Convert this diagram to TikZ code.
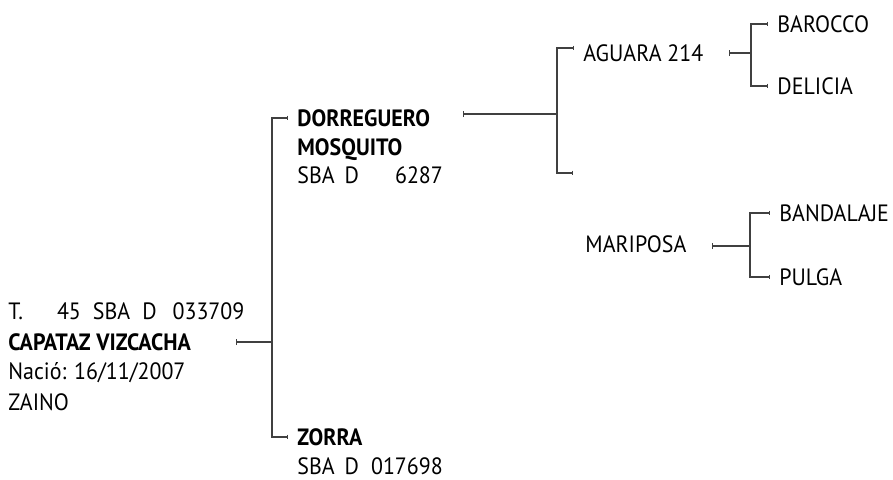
\documentclass[tikz,border=0pt]{standalone}
\usepackage{fontspec}
\setmainfont{PT Sans}[FakeStretch=0.93]
\usetikzlibrary{arrows.meta}

\tikzset{
  horse/.style={anchor=west, inner xsep=0pt, inner ysep=1pt,
                text height=8.4pt, text depth=0pt, font=\fontsize{11.8}{14}\selectfont},
  horsename/.style={horse, font=\fontsize{11.8}{14}\selectfont\bfseries},
  link/.style={black!75, line width=0.7pt},
  tipr/.style={link, -{Bar[width=2.4pt,line width=0.7pt]}, shorten >=4.5pt},
  tipl/.style={link, {Bar[width=3pt,line width=0.7pt]}-},
}

\begin{document}
\begin{tikzpicture}[x=0.5pt,y=-0.5pt]
  \useasboundingbox (0,0) rectangle (893,479);
  % the horse itself
  \node[horse]     (reg)     at (8,311) {T.\hspace{17pt}45\hspace{6pt}SBA\hspace{6pt}D\hspace{8pt}033709};
  \node[horsename] (capataz) at (8,342) {CAPATAZ VIZCACHA};
  \node[horse]     (nacio)   at (8,371) {Nació: 16/11/2007};
  \node[horse]     (pelo)    at (8,402) {ZAINO};
  % parents
  \node[horsename] (dorreguero) at (297,118) {DORREGUERO};
  \node[horsename] (mosquito)   at (297,147) {MOSQUITO};
  \node[horse]     (regp)       at (297,175) {SBA\hspace{5pt}D\hspace{18pt}6287};
  \node[horsename] (zorra)      at (297,437) {ZORRA};
  \node[horse]     (regm)       at (297,466) {SBA\hspace{5pt}D\hspace{6pt}017698};
  % grandparents
  \node[horse] (aguara)   at (583,53)  {AGUARA 214};
  \node[horse] (mariposa) at (585,244) {MARIPOSA};
  % great-grandparents
  \node[horse] (barocco)   at (777,24)  {BAROCCO};
  \node[horse] (delicia)   at (777,86)  {DELICIA};
  \node[horse] (bandalaje) at (779,213) {BANDALAJE};
  \node[horse] (pulga)     at (779,277) {PULGA};
  % junctions and tick places
  \coordinate (j1) at (272,342);
  \coordinate (j2) at (557,114);
  \coordinate (j3) at (751,53);
  \coordinate (j4) at (750,246);
  \coordinate (t1) at (236,0);
  \coordinate (t2) at (463,0);
  \coordinate (t3) at (729,0);
  \coordinate (t4) at (712,0);
  \coordinate (dam1) at (573,173);
  % connectors
  \draw[tipl] (capataz.east -| t1) -- (j1);
  \draw[tipr] (j1) |- (dorreguero.west);
  \draw[tipr] (j1) |- (zorra.west);
  \draw[tipl] (j2 -| t2) -- (j2);
  \draw[tipr] (j2) |- ([yshift=2.5pt]aguara.west);
  \draw[link, -{Bar[width=2.4pt,line width=0.7pt]}] (j2) |- (dam1);
  \draw[tipl] (aguara.east -| t3) -- (j3);
  \draw[tipr] (j3) |- (barocco.west);
  \draw[tipr] (j3) |- (delicia.west);
  \draw[tipl] (j4 -| t4) -- (j4);
  \draw[tipr] (j4) |- (bandalaje.west);
  \draw[tipr] (j4) |- (pulga.west);
\end{tikzpicture}
\end{document}
